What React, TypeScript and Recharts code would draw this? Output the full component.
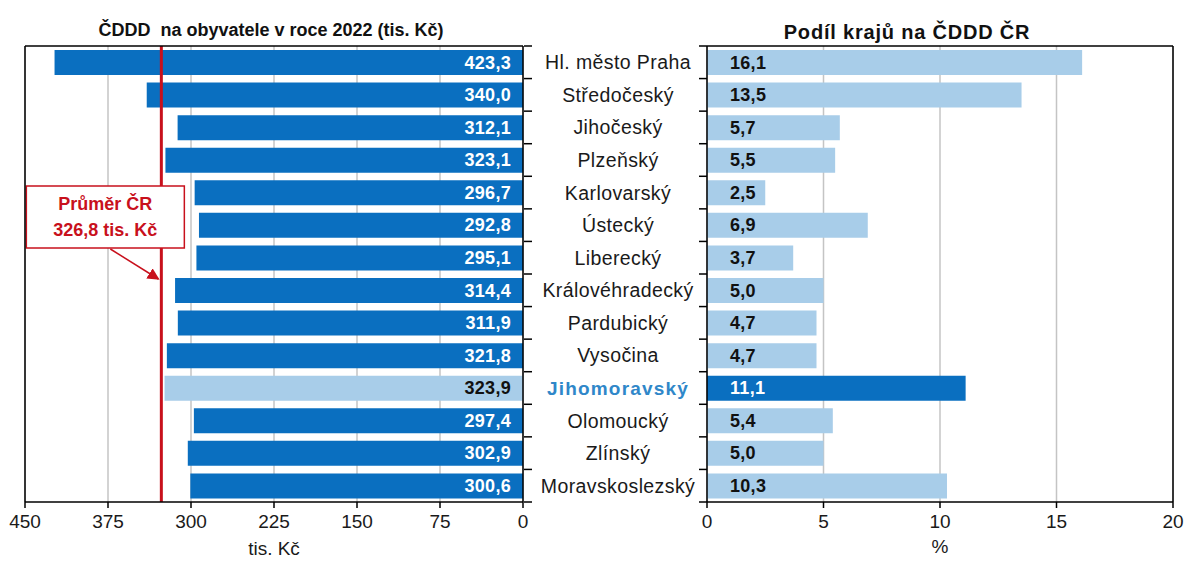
import { BarChart, Bar, XAxis, YAxis, CartesianGrid, ReferenceLine, Cell, LabelList } from 'recharts'

const REGIONS = [
  'Hl. město Praha', 'Středočeský', 'Jihočeský', 'Plzeňský', 'Karlovarský', 'Ústecký', 'Liberecký',
  'Královéhradecký', 'Pardubický', 'Vysočina', 'Jihomoravský', 'Olomoucký', 'Zlínský', 'Moravskoslezský',
]
const PER_CAPITA = [423.3, 340.0, 312.1, 323.1, 296.7, 292.8, 295.1, 314.4, 311.9, 321.8, 323.9, 297.4, 302.9, 300.6]
const SHARE = [16.1, 13.5, 5.7, 5.5, 2.5, 6.9, 3.7, 5.0, 4.7, 4.7, 11.1, 5.4, 5.0, 10.3]
const LEFT_TICKS = [0, 75, 150, 225, 300, 375, 450]
const RIGHT_TICKS = [0, 5, 10, 15, 20]
const CR_AVERAGE = 326.8
const HIGHLIGHT = 'Jihomoravský'

const DARK = '#0a6fc0'
const LIGHT = '#a8cde9'
const RED = '#c8101c'
const FONT = '"Liberation Sans", Arial, sans-serif'
const TOP = 46
const BOTTOM = 502
const BAND = (BOTTOM - TOP) / REGIONS.length

const data = REGIONS.map((name, i) => ({ name, perCapita: PER_CAPITA[i], share: SHARE[i] }))

const fmt = (v: number) => v.toFixed(1).replace('.', ',')

const CategoryTick = ({ y, payload }: any) => {
  const hl = payload.value === HIGHLIGHT
  const last = payload.value === REGIONS[REGIONS.length - 1]
  const t = y - BAND / 2
  const b = y + BAND / 2
  return (
    <g>
      <text x={94} y={y} textAnchor="middle" dominantBaseline="central" fontFamily={FONT}
        fontSize={hl ? 19 : 19.5} fontWeight={hl ? 700 : 400} letterSpacing={hl ? 1.2 : 0.4}
        fill={hl ? '#2f87c9' : '#1a1a1a'}>{payload.value}</text>
      <line x1={175} x2={183} y1={t} y2={t} stroke="#000" strokeWidth={1.5} />
      <line x1={0} x2={8} y1={t} y2={t} stroke="#000" strokeWidth={1.5} />
      {last && <line x1={175} x2={183} y1={b} y2={b} stroke="#000" strokeWidth={1.5} />}
      {last && <line x1={0} x2={8} y1={b} y2={b} stroke="#000" strokeWidth={1.5} />}
    </g>
  )
}

const LeftValue = ({ x, y, width, height, value, index }: any) => {
  const right = Math.max(x, x + width)
  const hl = REGIONS[index] === HIGHLIGHT
  return (
    <text x={right - 12} y={y + height / 2} textAnchor="end" dominantBaseline="central" fontFamily={FONT}
      fontSize={18} fontWeight={700} letterSpacing={0.3} fill={hl ? '#111' : '#fff'}>{fmt(value)}</text>
  )
}

const RightValue = ({ x, y, width, height, value, index }: any) => {
  const left = Math.min(x, x + width)
  const hl = REGIONS[index] === HIGHLIGHT
  return (
    <text x={left + 23} y={y + height / 2} dominantBaseline="central" fontFamily={FONT}
      fontSize={18} fontWeight={700} letterSpacing={0.3} fill={hl ? '#fff' : '#111'}>{fmt(value)}</text>
  )
}

const AverageLabel = ({ viewBox }: any) => {
  const lx = viewBox.x
  const by = viewBox.y + 140
  return (
    <g>
      <defs>
        <marker id="arr" markerWidth="8" markerHeight="8" refX="7" refY="4" orient="auto">
          <path d="M0,0 L8,4 L0,8 z" fill={RED} />
        </marker>
      </defs>
      <line x1={lx - 51} y1={by + 63} x2={lx - 3} y2={by + 93} stroke={RED} strokeWidth={1.5} markerEnd="url(#arr)" />
      <rect x={lx - 135} y={by} width={158} height={62} fill="#fff" stroke={RED} strokeWidth={1.5} />
      <text x={lx - 56} y={by + 24} textAnchor="middle" fontFamily={FONT} fontSize={18} fontWeight={700} fill={RED}>Průměr ČR</text>
      <text x={lx - 56} y={by + 50} textAnchor="middle" fontFamily={FONT} fontSize={18} fontWeight={700} fill={RED}>326,8 tis. Kč</text>
    </g>
  )
}

const tickStyle = { fill: '#1a1a1a', fontSize: 19, fontFamily: FONT }
const axisLine = { stroke: '#000', strokeWidth: 1.5 }
const labelStyle = { fontSize: 19, fontFamily: FONT, fill: '#1a1a1a' }

export default function App() {
  return (
    <div style={{ position: 'absolute', left: 0, top: 0, width: 1184, height: 561, background: '#fff', fontFamily: FONT }}>
      <div style={{ position: 'absolute', left: 71, width: 400, top: 20, textAlign: 'center', fontSize: 18, fontWeight: 700, color: '#111' }}>
        ČDDD&nbsp; na obyvatele v roce 2022 (tis. Kč)
      </div>
      <div style={{ position: 'absolute', left: 757, width: 300, top: 21, textAlign: 'center', fontSize: 20, fontWeight: 700, color: '#111', letterSpacing: 0.8 }}>
        Podíl krajů na ČDDD ČR
      </div>

      <div style={{ position: 'absolute', left: 0, top: 0 }}>
        <BarChart width={530} height={561} data={data} layout="vertical" barSize={25}
          margin={{ top: TOP - 1, right: 6, bottom: 0, left: 24 }}>
          <CartesianGrid horizontal={false} stroke="#c4c4c4" strokeWidth={1.5} />
          <XAxis type="number" domain={[0, 450]} ticks={LEFT_TICKS} reversed height={59} tick={tickStyle}
            tickSize={6} tickMargin={7} axisLine={axisLine} tickLine={{ stroke: '#000', strokeWidth: 1.5 }}
            label={{ value: 'tis. Kč', position: 'insideBottom', offset: 6, style: labelStyle }} />
          <XAxis xAxisId="top" orientation="top" type="number" domain={[0, 450]} reversed height={1} tick={false} tickLine={false} axisLine={axisLine} />
          <YAxis type="category" dataKey="name" orientation="right" width={1} tick={false} tickLine={false} axisLine={axisLine} />
          <YAxis yAxisId="edge" type="category" dataKey="name" orientation="left" width={1} tick={false} tickLine={false} axisLine={axisLine} />
          <Bar dataKey="perCapita" isAnimationActive={false}>
            {data.map(d => <Cell key={d.name} fill={d.name === HIGHLIGHT ? LIGHT : DARK} />)}
            <LabelList dataKey="perCapita" content={<LeftValue />} />
          </Bar>
          <ReferenceLine x={CR_AVERAGE} stroke={RED} strokeWidth={3} label={<AverageLabel />} />
        </BarChart>
      </div>

      <div style={{ position: 'absolute', left: 524, top: 0 }}>
        <BarChart width={660} height={561} data={data} layout="vertical" barSize={25}
          margin={{ top: TOP - 1, right: 10, bottom: 0, left: 0 }}>
          <CartesianGrid horizontal={false} stroke="#c4c4c4" strokeWidth={1.5} />
          <XAxis type="number" domain={[0, 20]} ticks={RIGHT_TICKS} height={59} tick={tickStyle}
            tickSize={6} tickMargin={7} axisLine={axisLine} tickLine={{ stroke: '#000', strokeWidth: 1.5 }}
            label={{ value: '%', position: 'insideBottom', offset: 8, style: labelStyle }} />
          <XAxis xAxisId="top" orientation="top" type="number" domain={[0, 20]} height={1} tick={false} tickLine={false} axisLine={axisLine} />
          <YAxis type="category" dataKey="name" width={183} tick={<CategoryTick />} tickLine={false} axisLine={axisLine} interval={0} />
          <YAxis yAxisId="edge" type="category" dataKey="name" orientation="right" width={1} tick={false} tickLine={false} axisLine={axisLine} />
          <Bar dataKey="share" isAnimationActive={false}>
            {data.map(d => <Cell key={d.name} fill={d.name === HIGHLIGHT ? DARK : LIGHT} />)}
            <LabelList dataKey="share" content={<RightValue />} />
          </Bar>
        </BarChart>
      </div>
    </div>
  )
}
